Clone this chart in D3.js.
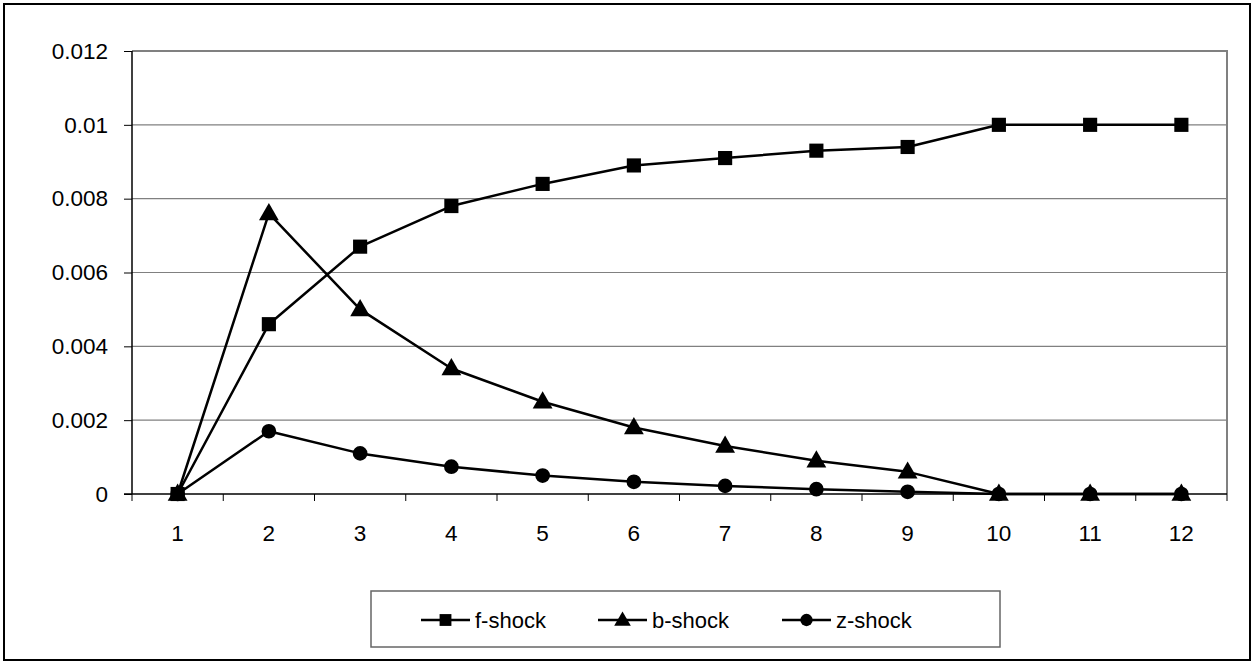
<!DOCTYPE html>
<html>
<head>
<meta charset="utf-8">
<script src="https://cdn.jsdelivr.net/npm/d3@7"></script>
<style>
  html, body { margin: 0; padding: 0; background: #fff; }
  svg { display: block; font-family: "Liberation Sans", Arial, sans-serif; }
</style>
</head>
<body>
<svg id="chart" width="1254" height="664"></svg>
<script>
// Periods after the shock
const periods = [1, 2, 3, 4, 5, 6, 7, 8, 9, 10, 11, 12];

// Responses to each shock
const fShock = [0, 0.0046, 0.0067, 0.0078, 0.0084, 0.0089, 0.0091, 0.0093, 0.0094, 0.01, 0.01, 0.01];
const bShock = [0, 0.0076, 0.0050, 0.0034, 0.0025, 0.0018, 0.0013, 0.0009, 0.0006, 0, 0, 0];
const zShock = [0, 0.0017, 0.0011, 0.00074, 0.0005, 0.00033, 0.00022, 0.00013, 0.00006, 0, 0, 0];

const yTicks = [0, 0.002, 0.004, 0.006, 0.008, 0.01, 0.012];

const seriesNames = ["f-shock", "b-shock", "z-shock"];
const seriesValues = [fShock, bShock, zShock];
const seriesSymbols = [d3.symbolSquare, d3.symbolTriangle, d3.symbolCircle];

const svg = d3.select("#chart");
const W = 1254, H = 664;
const plot = { left: 132, right: 1227, top: 51, bottom: 494 };
const FONT = "Liberation Sans, Arial, sans-serif";

// Outer frame
svg.append("rect")
  .attr("x", 4).attr("y", 4).attr("width", W - 8).attr("height", H - 8)
  .attr("fill", "#fff").attr("stroke", "#000").attr("stroke-width", 2);

const x = d3.scaleBand().domain(periods).range([plot.left, plot.right]);
const y = d3.scaleLinear().domain([0, 0.012]).range([plot.bottom, plot.top]);

// Horizontal gridlines
svg.append("g").selectAll("line")
  .data(yTicks.filter(t => t > 0))
  .join("line")
  .attr("x1", plot.left).attr("x2", plot.right)
  .attr("y1", d => y(d)).attr("y2", d => y(d))
  .attr("stroke", "#808080").attr("stroke-width", 1.2);

// Plot area frame (top and right)
svg.append("path")
  .attr("d", `M${plot.left},${plot.top}H${plot.right}V${plot.bottom}`)
  .attr("fill", "none").attr("stroke", "#808080").attr("stroke-width", 2);

// Y axis
const yAxis = d3.axisLeft(y).tickValues(yTicks).tickSize(8).tickPadding(6)
  .tickFormat(d => d === 0 ? "0" : String(+d.toFixed(3)));
const gy = svg.append("g").attr("transform", `translate(${plot.left},0)`).call(yAxis);
gy.select(".domain").attr("stroke", "#000").attr("stroke-width", 1.5)
  .attr("d", `M0,${plot.bottom}V${plot.top}`);
gy.selectAll(".tick line").attr("stroke", "#000");
gy.selectAll(".tick text").attr("font-size", 22.5).attr("fill", "#000")
  .attr("font-family", FONT).attr("x", -24);

// X axis with ticks at band boundaries
const gx = svg.append("g").attr("transform", `translate(0,${plot.bottom})`);
gx.append("line").attr("x1", plot.left - 8).attr("x2", plot.right)
  .attr("stroke", "#000").attr("stroke-width", 1.5);
const boundaries = periods.map(p => x(p)).concat([x(periods[periods.length - 1]) + x.bandwidth()]);
gx.selectAll("line.tk").data(boundaries).join("line").attr("class", "tk")
  .attr("x1", d => d).attr("x2", d => d).attr("y1", 0).attr("y2", 7)
  .attr("stroke", "#000");
gx.selectAll("text").data(periods).join("text")
  .attr("x", d => x(d) + x.bandwidth() / 2).attr("y", 47)
  .attr("text-anchor", "middle").attr("font-size", 22.5).attr("font-family", FONT).text(d => d);

// Series lines and markers
const line = d3.line()
  .x((d, i) => x(periods[i]) + x.bandwidth() / 2)
  .y(d => y(d));

seriesValues.forEach((vals, s) => {
  svg.append("path").datum(vals).attr("d", line)
    .attr("fill", "none").attr("stroke", "#000").attr("stroke-width", 2.5)
    .attr("stroke-linejoin", "round");
});

const markerSizes = [200, 170, 170];
seriesValues.forEach((vals, s) => {
  svg.append("g").selectAll("path").data(vals).join("path")
    .attr("transform", (d, i) => `translate(${x(periods[i]) + x.bandwidth() / 2},${y(d) + (s === 1 ? 1 : 0)})`)
    .attr("d", d3.symbol(seriesSymbols[s], markerSizes[s]))
    .attr("fill", "#000");
});

// Legend
const legend = svg.append("g");
legend.append("rect").attr("x", 371).attr("y", 591).attr("width", 629).attr("height", 56)
  .attr("fill", "#fff").attr("stroke", "#666").attr("stroke-width", 1.5);
const legendX = [421, 598, 782];
seriesNames.forEach((name, s) => {
  const g = legend.append("g").attr("transform", `translate(${legendX[s]},620)`);
  g.append("line").attr("x1", 0).attr("x2", 49).attr("stroke", "#000").attr("stroke-width", 2.5);
  g.append("path").attr("transform", `translate(24.5,${s === 1 ? 1 : 0})`)
    .attr("d", d3.symbol(seriesSymbols[s], [140, 120, 120][s])).attr("fill", "#000");
  g.append("text").attr("x", 54).attr("y", 8).attr("font-size", 22).attr("font-family", FONT).text(name);
});
</script>
</body>
</html>
